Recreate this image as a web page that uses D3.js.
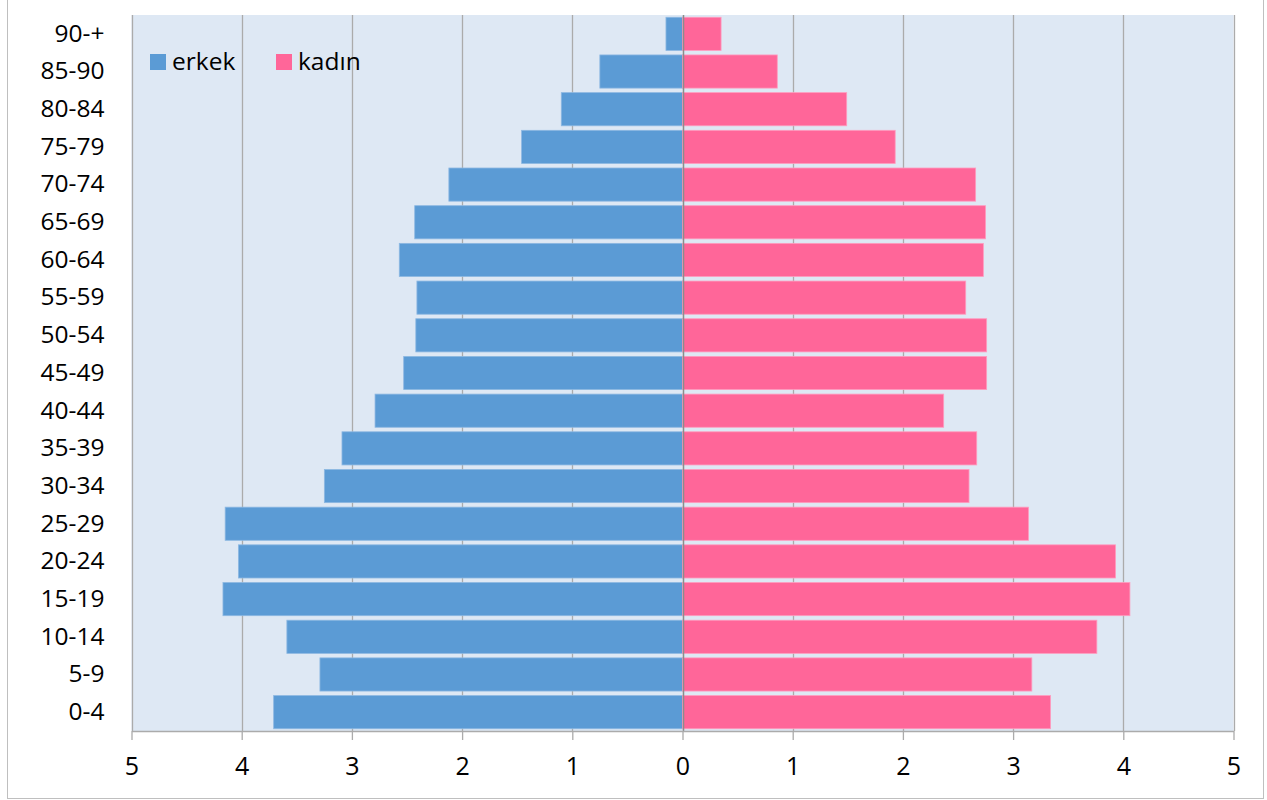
<!DOCTYPE html>
<html>
<head>
<meta charset="utf-8">
<script src="https://cdn.jsdelivr.net/npm/d3@7"></script>
<style>
  html, body { margin: 0; padding: 0; background: #fff; }
  svg { display: block; }
  text { font-family: "Open Sans", "Liberation Sans", sans-serif; fill: #000; }
</style>
</head>
<body>
<svg id="chart" width="1267" height="800"></svg>
<script>
// Data (top to bottom)
const ageGroups = ["90-+","85-90","80-84","75-79","70-74","65-69","60-64","55-59","50-54","45-49","40-44","35-39","30-34","25-29","20-24","15-19","10-14","5-9","0-4"];
const erkek = [0.15, 0.75, 1.10, 1.46, 2.12, 2.43, 2.57, 2.41, 2.42, 2.53, 2.79, 3.09, 3.25, 4.15, 4.03, 4.17, 3.59, 3.29, 3.71];
const kadin = [0.35, 0.86, 1.49, 1.93, 2.66, 2.75, 2.73, 2.57, 2.76, 2.76, 2.37, 2.67, 2.60, 3.14, 3.93, 4.06, 3.76, 3.17, 3.34];
const tickValues = [-5, -4, -3, -2, -1, 0, 1, 2, 3, 4, 5];
const seriesNames = ["erkek", "kadın"];
const seriesColors = ["#5B9BD5", "#FF6699"];

const svg = d3.select("#chart");
const plot = { left: 131.5, right: 1233.5, top: 15, bottom: 731 };

// outer border
svg.append("rect")
  .attr("x", 7.5).attr("y", -1).attr("width", 1256).attr("height", 799.5)
  .attr("fill", "#fff").attr("stroke", "#BFBFBF").attr("stroke-width", 1);

const x = d3.scaleLinear().domain([-5, 5]).range([plot.left, plot.right]);
const y = d3.scaleBand().domain(ageGroups).range([plot.top, plot.bottom])
  .paddingInner(0.12).paddingOuter(0.06);

// plot background
svg.append("rect")
  .attr("x", plot.left).attr("y", plot.top)
  .attr("width", plot.right - plot.left).attr("height", plot.bottom - plot.top)
  .attr("fill", "#DEE8F4");

// gridlines
svg.append("g").selectAll("line").data(tickValues.filter(d => d !== 0)).join("line")
  .attr("x1", d => Math.round(x(d)) + 0.5).attr("x2", d => Math.round(x(d)) + 0.5)
  .attr("y1", plot.top).attr("y2", plot.bottom)
  .attr("stroke", "#ABABAB").attr("stroke-width", 1.3);

// bars
const rows = ageGroups.map((g, i) => ({ g, m: erkek[i], f: kadin[i] }));
svg.append("g").selectAll("rect").data(rows).join("rect")
  .attr("x", d => x(-d.m)).attr("width", d => x(0) - x(-d.m))
  .attr("y", d => y(d.g)).attr("height", y.bandwidth())
  .attr("fill", seriesColors[0]).attr("stroke", "#8DB8E2").attr("stroke-width", 0.8);
svg.append("g").selectAll("rect").data(rows).join("rect")
  .attr("x", x(0)).attr("width", d => x(d.f) - x(0))
  .attr("y", d => y(d.g)).attr("height", y.bandwidth())
  .attr("fill", seriesColors[1]).attr("stroke", "#FF9CBF").attr("stroke-width", 0.8);

// zero axis line
svg.append("line")
  .attr("x1", Math.round(x(0)) + 0.5).attr("x2", Math.round(x(0)) + 0.5)
  .attr("y1", plot.top).attr("y2", plot.bottom)
  .attr("stroke", "#8C8C8C").attr("stroke-width", 1.5);

// x axis
const xAxis = d3.axisBottom(x).tickValues(tickValues)
  .tickFormat(d => Math.abs(d)).tickSize(9).tickPadding(17).tickSizeOuter(0);
const gx = svg.append("g").attr("transform", `translate(0,${plot.bottom})`).call(xAxis);
gx.select(".domain").attr("stroke", "#ABABAB").attr("stroke-width", 1.3);
gx.selectAll(".tick line").attr("stroke", "#ABABAB").attr("stroke-width", 1.3);
gx.selectAll(".tick text").attr("font-size", 25)
  .attr("font-family", "'Open Sans', sans-serif").attr("fill", "#000");

// y axis labels
const yAxis = d3.axisLeft(y).tickSize(0).tickPadding(27);
const gy = svg.append("g").attr("transform", `translate(${plot.left},0)`).call(yAxis);
gy.select(".domain").remove();
gy.selectAll(".tick text").attr("font-size", 24.5)
  .attr("font-family", "'Open Sans', sans-serif").attr("fill", "#000");

// legend
const legend = svg.append("g");
const legendX = [150, 276];
seriesNames.forEach((name, i) => {
  legend.append("rect").attr("x", legendX[i]).attr("y", 54).attr("width", 16).attr("height", 16)
    .attr("fill", seriesColors[i]);
  legend.append("text").attr("x", legendX[i] + 22).attr("y", 70)
    .attr("font-size", 24.5).text(name);
});
</script>
</body>
</html>
